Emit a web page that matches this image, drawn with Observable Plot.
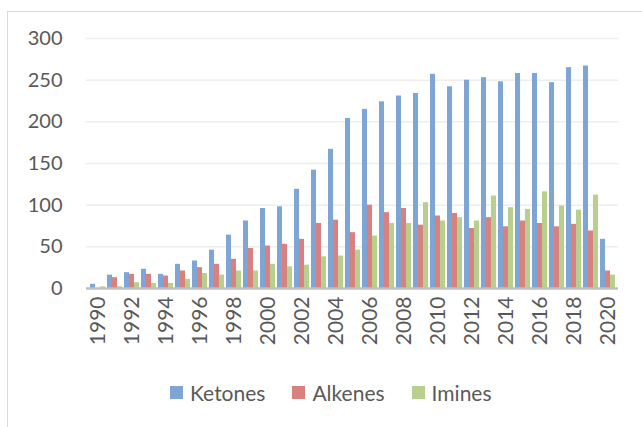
<!DOCTYPE html>
<html>
<head>
<meta charset="utf-8">
<script src="https://cdn.jsdelivr.net/npm/d3@7"></script>
<script src="https://cdn.jsdelivr.net/npm/@observablehq/plot@0.6"></script>
<style>
  html, body { margin: 0; padding: 0; background: #fff; }
  body { width: 642px; height: 427px; position: relative; overflow: hidden; font-family: Lato, "Open Sans", sans-serif; color: #595959; }
  #frame { position: absolute; left: 7px; top: 11px; width: 700px; height: 500px; border-left: 1.5px solid #D9D9D9; border-top: 1.5px solid #D9D9D9; box-sizing: border-box; }
  #chart { position: absolute; left: 0; top: 0; }
  #legend { position: absolute; left: 170px; top: 380px; display: flex; align-items: center; font-size: 21px; white-space: nowrap; }
  .item { display: flex; align-items: center; margin-right: 27px; }
  .sw { width: 13px; height: 13px; margin-right: 7px; }
</style>
</head>
<body>
<div id="frame"></div>
<div id="chart"></div>
<div id="legend"></div>
<script>
const years = d3.range(1990, 2021);
const seriesNames = ["Ketones", "Alkenes", "Imines"];
const seriesColors = ["#7EA5D3", "#D8817F", "#B8CF8D"];
const ketones = [5,16,19,23,17,29,33,46,64,81,96,98,119,142,167,204,215,224,231,234,257,242,250,253,248,258,258,247,265,267,59];
const alkenes = [0,13,17,17,15,21,25,29,35,48,51,53,59,78,82,67,100,91,96,76,87,90,72,85,74,81,78,74,77,69,21];
const imines  = [2,2,7,6,6,11,18,16,21,21,29,26,28,38,39,46,63,78,78,103,81,85,81,111,97,95,116,99,94,112,16];
const yTicks = [0, 50, 100, 150, 200, 250, 300];
const xLabelYears = years.filter(y => y % 2 === 0);

const values = [ketones, alkenes, imines];
const table = seriesNames.map((s, i) => years.map((y, j) => ({year: y, series: s, value: values[i][j]})));

const W = 642, H = 365;
const mL = 86, mR = 24, mT = 38, mB = 77;
const pInner = 0.13, pOuter = 0.065;
const step = (W - mL - mR) / (years.length - pInner + 2 * pOuter);
const barW = step * (1 - pInner) / 3;
const inset = barW;

const chart = Plot.plot({
  width: W,
  height: H,
  marginLeft: mL,
  marginRight: mR,
  marginTop: mT,
  marginBottom: mB,
  style: {fontFamily: "Lato, 'Open Sans', sans-serif", fontSize: "20px", color: "#595959", background: "transparent"},
  x: {type: "band", domain: years, paddingInner: pInner, paddingOuter: pOuter, axis: null},
  y: {domain: [0, 300], axis: null},
  marks: [
    Plot.ruleY(yTicks.slice(1), {stroke: "#EEEEEE", strokeWidth: 1.5}),
    ...table.map((d, i) => Plot.barY(d, {
      x: "year", y: "value", fill: seriesColors[i],
      insetLeft: inset, insetRight: inset, dx: (i - 1) * barW
    })),
    Plot.ruleY([0], {stroke: "#BFBFBF", strokeWidth: 2.5}),
    Plot.axisY({ticks: yTicks, tickSize: 0, tickPadding: 24, fontSize: 20, label: null}),
    Plot.axisX({ticks: xLabelYears, tickFormat: d => String(d), tickSize: 0, tickPadding: 8, tickRotate: -90, fontSize: 21, label: null})
  ]
});
document.getElementById("chart").appendChild(chart);

const legend = document.getElementById("legend");
seriesNames.forEach((s, i) => {
  const item = document.createElement("div");
  item.className = "item";
  const sw = document.createElement("div");
  sw.className = "sw";
  sw.style.background = seriesColors[i];
  const t = document.createElement("span");
  t.textContent = s;
  item.appendChild(sw);
  item.appendChild(t);
  legend.appendChild(item);
});
</script>
</body>
</html>
